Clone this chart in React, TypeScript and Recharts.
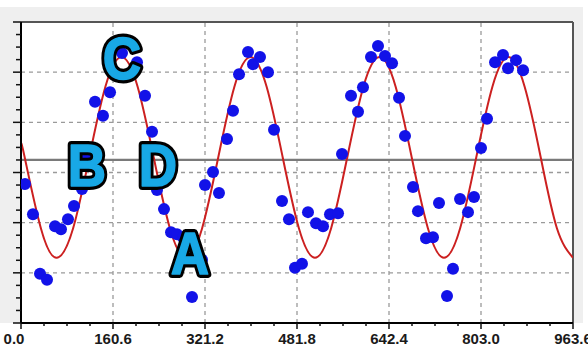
import React from 'react';
import {
  ComposedChart, Line, Scatter, XAxis, YAxis, ReferenceLine, ReferenceArea, ReferenceDot,
} from 'recharts';

// ---- data ----
const xMajorTicks = [0, 160.6, 321.2, 481.8, 642.4, 803.0, 963.6];
const xTickLabels = ['0.0', '160.6', '321.2', '481.8', '642.4', '803.0', '963.6'];
const yMajorTicks = [-3, -2, -1, 0, 1, 2, 3];
const meanLevel = 0.25;

const pointX = [7.0, 20.9, 33.2, 45.4, 59.4, 69.8, 82.0, 92.5, 106.5, 115.2, 129.2, 143.1, 155.4, 176.3, 202.5, 216.5, 228.7, 237.4, 249.6, 261.9, 272.3, 282.8, 298.5, 316.0, 321.2, 335.2, 345.6, 359.6, 370.1, 380.6, 396.3, 405.0, 417.2, 431.2, 441.7, 455.6, 467.8, 478.3, 490.5, 501.0, 515.0, 527.2, 539.4, 553.4, 560.4, 576.1, 588.3, 597.0, 611.0, 623.2, 635.4, 647.7, 659.9, 670.3, 684.3, 693.0, 707.0, 719.2, 729.7, 743.7, 754.1, 766.4, 780.3, 790.8, 803.0, 813.5, 827.5, 841.4, 850.2, 864.1, 876.4];
const pointY = [-0.23, -0.83, -2.02, -2.14, -1.07, -1.13, -0.93, -0.67, -0.33, 0.35, 1.41, 1.13, 1.60, 2.38, 2.20, 1.53, 0.81, -0.35, -0.73, -1.19, -1.23, -1.29, -2.48, -1.74, -0.25, 0.01, -0.41, 0.67, 1.23, 1.96, 2.40, 2.16, 2.30, 2.00, 0.85, -0.57, -0.93, -1.90, -1.82, -0.79, -1.01, -1.07, -0.83, -0.81, 0.37, 1.53, 1.21, 1.70, 2.30, 2.52, 2.32, 2.18, 1.49, 0.73, -0.29, -0.77, -1.31, -1.29, -0.61, -2.46, -1.92, -0.53, -0.79, -0.49, 0.49, 1.07, 2.20, 2.34, 2.08, 2.24, 2.04];

const curveX = [0, 6.5, 34.7, 62.8, 91.0, 119.1, 147.3, 175.4, 203.6, 231.7, 259.9, 288.0, 316.2, 344.3, 372.5, 400.6, 428.8, 456.9, 485.1, 513.2, 541.4, 569.5, 597.7, 625.8, 654.0, 682.1, 710.3, 738.4, 766.6, 794.7, 822.9, 851.0, 879.2, 907.3, 935.5, 963.6];
const curveY = [0.58, 0.30, -1.11, -1.70, -1.11, 0.30, 1.71, 2.30, 1.71, 0.30, -1.11, -1.70, -1.11, 0.30, 1.71, 2.30, 1.71, 0.30, -1.11, -1.70, -1.11, 0.30, 1.71, 2.30, 1.71, 0.30, -1.11, -1.70, -1.11, 0.30, 1.71, 2.30, 1.71, 0.30, -1.11, -1.70];

const annotLabels = ['C', 'B', 'D', 'A'];
const annotX = [176, 115, 239, 295];
const annotY = [2.28, 0.13, 0.13, -1.62];

// ---- derived tables ----
const points = pointX.map((x, i) => ({ x, y: pointY[i] }));
const curve = curveX.map((x, i) => ({ x, y: curveY[i] }));
const subdiv = (major: number[], n: number) => {
  const out: number[] = [];
  for (let i = 0; i < major.length - 1; i++) {
    for (let k = 0; k < n; k++) out.push(+(major[i] + ((major[i + 1] - major[i]) * k) / n).toFixed(4));
  }
  out.push(major[major.length - 1]);
  return out;
};
const xAllTicks = subdiv(xMajorTicks, 4);
const yAllTicks = subdiv(yMajorTicks, 4);

const FONT = '"Liberation Sans", Arial, sans-serif';

const XTick = (props: any) => {
  const { x, y, index } = props;
  const major = index % 4 === 0;
  const li = index / 4;
  return (
    <g>
      <line x1={x} y1={y} x2={x} y2={y + (major ? 6 : 3)} stroke="#111" strokeWidth={1.5} />
      {major && (
        <text x={x + (li === 0 ? -7 : 0)} y={y + 21} textAnchor="middle" fontFamily={FONT}
          fontWeight="bold" fontSize={15} fill="#1a1a1a">
          {xTickLabels[li]}
        </text>
      )}
    </g>
  );
};

const YTick = (props: any) => {
  const { x, y, index } = props;
  const major = index % 4 === 0;
  return <line x1={x} y1={y} x2={x - (major ? 8 : 5)} y2={y} stroke="#111" strokeWidth={1.5} />;
};

const Dot = (p: any) => <circle cx={p.cx} cy={p.cy} r={6} fill="#1212e8" />;

const Letter = (label: string) => (p: any) => {
  const common = {
    transform: `translate(${p.cx},${p.cy}) scale(0.9,1)`,
    x: 0, y: 0, textAnchor: 'middle' as const, dominantBaseline: 'central' as const,
    fontFamily: FONT, fontWeight: 'bold' as const, fontSize: 59, strokeLinejoin: 'round' as const,
  };
  return (
    <g>
      <text {...common} fill="#000" stroke="#000" strokeWidth={8}>{label}</text>
      <text {...common} fill="#18a8e6" stroke="#18a8e6" strokeWidth={1.6}>{label}</text>
    </g>
  );
};

export default function App() {
  return (
    <div style={{ position: 'absolute', left: 0, top: 0, width: 588, height: 349, background: '#fff' }}>
      <div style={{ position: 'absolute', left: 0, top: 7, width: 583, height: 316, background: '#efefef' }} />
      <div style={{ position: 'absolute', left: 0, top: 0 }}>
        <ComposedChart width={588} height={349} margin={{ top: 22, right: 15, bottom: 0, left: 0 }}>
          <XAxis type="number" dataKey="x" domain={[0, 963.6]} ticks={xAllTicks} interval={0}
            allowDataOverflow tick={<XTick />} tickLine={false} tickSize={0} tickMargin={0}
            height={26} axisLine={{ stroke: '#000', strokeWidth: 2 }} />
          <YAxis type="number" dataKey="y" domain={[-3, 3]} ticks={yAllTicks} interval={0}
            allowDataOverflow tick={<YTick />} tickLine={false} tickSize={0} tickMargin={0}
            width={21} axisLine={{ stroke: '#000', strokeWidth: 2 }} />
          <ReferenceArea x1={0} x2={963.6} y1={-3} y2={3} fill="#fff" fillOpacity={1} stroke="none" />
          {xMajorTicks.slice(1, -1).map((v) => (
            <ReferenceLine key={'gx' + v} x={v} stroke="#9a9a9a" strokeWidth={1.3} strokeDasharray="4 4" />
          ))}
          {yMajorTicks.slice(1, -1).map((v) => (
            <ReferenceLine key={'gy' + v} y={v} stroke="#9a9a9a" strokeWidth={1.3} strokeDasharray="4 4" />
          ))}
          <ReferenceLine y={3} stroke="#555" strokeWidth={2} />
          <ReferenceLine x={963.6} stroke="#555" strokeWidth={2} />
          <ReferenceLine y={meanLevel} stroke="#7a7a7a" strokeWidth={2.2} />
          <Line data={curve} dataKey="y" type="natural" stroke="#cc2020" strokeWidth={2}
            dot={false} activeDot={false} isAnimationActive={false} />
          <Scatter data={points} dataKey="y" shape={<Dot />} isAnimationActive={false} />
          {annotLabels.map((l, i) => (
            <ReferenceDot key={l} x={annotX[i]} y={annotY[i]} r={0} shape={Letter(l)} />
          ))}
        </ComposedChart>
      </div>
    </div>
  );
}
